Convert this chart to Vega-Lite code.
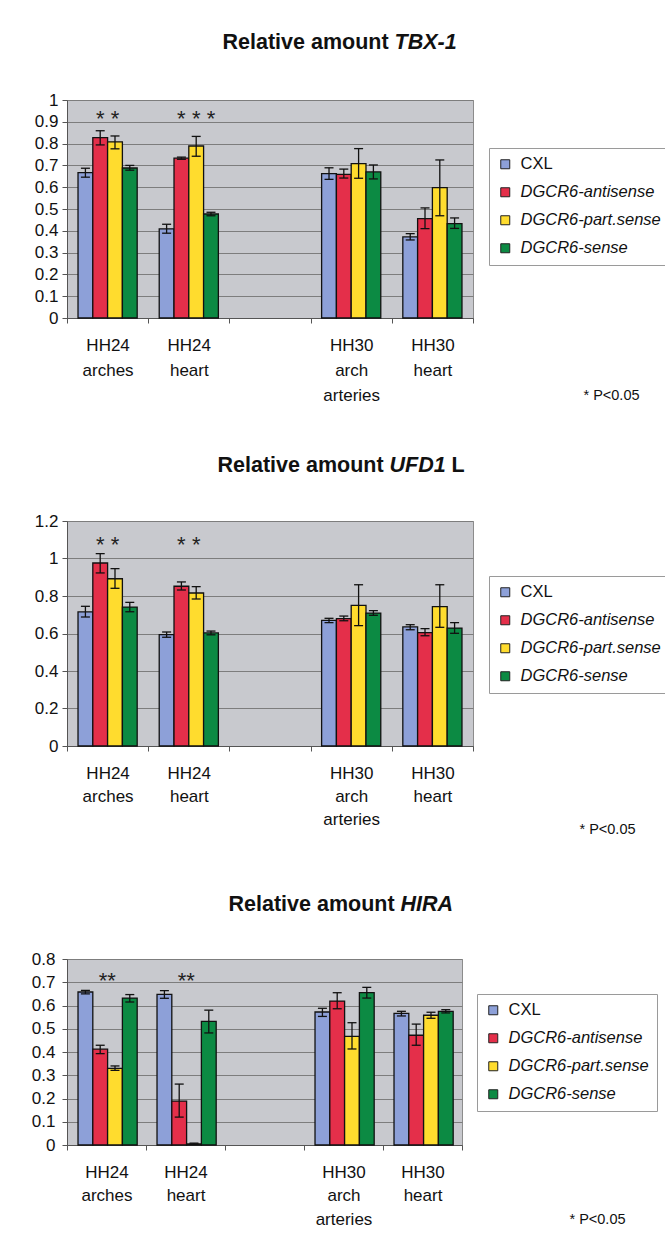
{
  "$schema": "https://vega.github.io/schema/vega-lite/v6.json",
  "padding": {"left": 30, "top": 30, "right": 0, "bottom": 0},
  "background": "white",
  "datasets": {
    "bars": [
      {"gene": "TBX-1", "group": "HH24 arches", "series": "CXL", "value": 0.667, "lo": 0.646, "hi": 0.687},
      {"gene": "TBX-1", "group": "HH24 arches", "series": "DGCR6-antisense", "value": 0.827, "lo": 0.794, "hi": 0.859},
      {"gene": "TBX-1", "group": "HH24 arches", "series": "DGCR6-part.sense", "value": 0.808, "lo": 0.776, "hi": 0.835},
      {"gene": "TBX-1", "group": "HH24 arches", "series": "DGCR6-sense", "value": 0.688, "lo": 0.678, "hi": 0.700},
      {"gene": "TBX-1", "group": "HH24 heart", "series": "CXL", "value": 0.409, "lo": 0.389, "hi": 0.430},
      {"gene": "TBX-1", "group": "HH24 heart", "series": "DGCR6-antisense", "value": 0.733, "lo": 0.728, "hi": 0.738},
      {"gene": "TBX-1", "group": "HH24 heart", "series": "DGCR6-part.sense", "value": 0.789, "lo": 0.742, "hi": 0.833},
      {"gene": "TBX-1", "group": "HH24 heart", "series": "DGCR6-sense", "value": 0.477, "lo": 0.469, "hi": 0.485},
      {"gene": "TBX-1", "group": "HH30 arch arteries", "series": "CXL", "value": 0.662, "lo": 0.636, "hi": 0.689},
      {"gene": "TBX-1", "group": "HH30 arch arteries", "series": "DGCR6-antisense", "value": 0.659, "lo": 0.642, "hi": 0.683},
      {"gene": "TBX-1", "group": "HH30 arch arteries", "series": "DGCR6-part.sense", "value": 0.708, "lo": 0.641, "hi": 0.777},
      {"gene": "TBX-1", "group": "HH30 arch arteries", "series": "DGCR6-sense", "value": 0.670, "lo": 0.638, "hi": 0.702},
      {"gene": "TBX-1", "group": "HH30 heart", "series": "CXL", "value": 0.372, "lo": 0.358, "hi": 0.387},
      {"gene": "TBX-1", "group": "HH30 heart", "series": "DGCR6-antisense", "value": 0.456, "lo": 0.410, "hi": 0.505},
      {"gene": "TBX-1", "group": "HH30 heart", "series": "DGCR6-part.sense", "value": 0.598, "lo": 0.469, "hi": 0.725},
      {"gene": "TBX-1", "group": "HH30 heart", "series": "DGCR6-sense", "value": 0.433, "lo": 0.411, "hi": 0.459},

      {"gene": "UFD1", "group": "HH24 arches", "series": "CXL", "value": 0.715, "lo": 0.688, "hi": 0.745},
      {"gene": "UFD1", "group": "HH24 arches", "series": "DGCR6-antisense", "value": 0.976, "lo": 0.923, "hi": 1.026},
      {"gene": "UFD1", "group": "HH24 arches", "series": "DGCR6-part.sense", "value": 0.892, "lo": 0.841, "hi": 0.946},
      {"gene": "UFD1", "group": "HH24 arches", "series": "DGCR6-sense", "value": 0.741, "lo": 0.716, "hi": 0.766},
      {"gene": "UFD1", "group": "HH24 heart", "series": "CXL", "value": 0.594, "lo": 0.580, "hi": 0.608},
      {"gene": "UFD1", "group": "HH24 heart", "series": "DGCR6-antisense", "value": 0.852, "lo": 0.832, "hi": 0.875},
      {"gene": "UFD1", "group": "HH24 heart", "series": "DGCR6-part.sense", "value": 0.816, "lo": 0.784, "hi": 0.850},
      {"gene": "UFD1", "group": "HH24 heart", "series": "DGCR6-sense", "value": 0.603, "lo": 0.593, "hi": 0.613},
      {"gene": "UFD1", "group": "HH30 arch arteries", "series": "CXL", "value": 0.670, "lo": 0.658, "hi": 0.681},
      {"gene": "UFD1", "group": "HH30 arch arteries", "series": "DGCR6-antisense", "value": 0.679, "lo": 0.668, "hi": 0.693},
      {"gene": "UFD1", "group": "HH30 arch arteries", "series": "DGCR6-part.sense", "value": 0.750, "lo": 0.642, "hi": 0.860},
      {"gene": "UFD1", "group": "HH30 arch arteries", "series": "DGCR6-sense", "value": 0.709, "lo": 0.697, "hi": 0.722},
      {"gene": "UFD1", "group": "HH30 heart", "series": "CXL", "value": 0.635, "lo": 0.620, "hi": 0.647},
      {"gene": "UFD1", "group": "HH30 heart", "series": "DGCR6-antisense", "value": 0.605, "lo": 0.588, "hi": 0.626},
      {"gene": "UFD1", "group": "HH30 heart", "series": "DGCR6-part.sense", "value": 0.743, "lo": 0.633, "hi": 0.860},
      {"gene": "UFD1", "group": "HH30 heart", "series": "DGCR6-sense", "value": 0.629, "lo": 0.601, "hi": 0.658},

      {"gene": "HIRA", "group": "HH24 arches", "series": "CXL", "value": 0.658, "lo": 0.650, "hi": 0.665},
      {"gene": "HIRA", "group": "HH24 arches", "series": "DGCR6-antisense", "value": 0.412, "lo": 0.393, "hi": 0.429},
      {"gene": "HIRA", "group": "HH24 arches", "series": "DGCR6-part.sense", "value": 0.330, "lo": 0.321, "hi": 0.340},
      {"gene": "HIRA", "group": "HH24 arches", "series": "DGCR6-sense", "value": 0.632, "lo": 0.615, "hi": 0.647},
      {"gene": "HIRA", "group": "HH24 heart", "series": "CXL", "value": 0.648, "lo": 0.631, "hi": 0.664},
      {"gene": "HIRA", "group": "HH24 heart", "series": "DGCR6-antisense", "value": 0.189, "lo": 0.120, "hi": 0.262},
      {"gene": "HIRA", "group": "HH24 heart", "series": "DGCR6-part.sense", "value": 0.005, "lo": 0.003, "hi": 0.008},
      {"gene": "HIRA", "group": "HH24 heart", "series": "DGCR6-sense", "value": 0.532, "lo": 0.482, "hi": 0.580},
      {"gene": "HIRA", "group": "HH30 arch arteries", "series": "CXL", "value": 0.572, "lo": 0.553, "hi": 0.588},
      {"gene": "HIRA", "group": "HH30 arch arteries", "series": "DGCR6-antisense", "value": 0.619, "lo": 0.586, "hi": 0.655},
      {"gene": "HIRA", "group": "HH30 arch arteries", "series": "DGCR6-part.sense", "value": 0.467, "lo": 0.413, "hi": 0.526},
      {"gene": "HIRA", "group": "HH30 arch arteries", "series": "DGCR6-sense", "value": 0.655, "lo": 0.632, "hi": 0.678},
      {"gene": "HIRA", "group": "HH30 heart", "series": "CXL", "value": 0.566, "lo": 0.555, "hi": 0.575},
      {"gene": "HIRA", "group": "HH30 heart", "series": "DGCR6-antisense", "value": 0.472, "lo": 0.429, "hi": 0.520},
      {"gene": "HIRA", "group": "HH30 heart", "series": "DGCR6-part.sense", "value": 0.558, "lo": 0.545, "hi": 0.571},
      {"gene": "HIRA", "group": "HH30 heart", "series": "DGCR6-sense", "value": 0.575, "lo": 0.568, "hi": 0.582}
    ],
    "stars": [
      {"gene": "TBX-1", "group": "HH24 arches", "series": "DGCR6-antisense", "star": "*", "ypos": 0.94},
      {"gene": "TBX-1", "group": "HH24 arches", "series": "DGCR6-part.sense", "star": "*", "ypos": 0.94},
      {"gene": "TBX-1", "group": "HH24 heart", "series": "DGCR6-antisense", "star": "*", "ypos": 0.94},
      {"gene": "TBX-1", "group": "HH24 heart", "series": "DGCR6-part.sense", "star": "*", "ypos": 0.94},
      {"gene": "TBX-1", "group": "HH24 heart", "series": "DGCR6-sense", "star": "*", "ypos": 0.94},
      {"gene": "UFD1", "group": "HH24 arches", "series": "DGCR6-antisense", "star": "*", "ypos": 1.105},
      {"gene": "UFD1", "group": "HH24 arches", "series": "DGCR6-part.sense", "star": "*", "ypos": 1.105},
      {"gene": "UFD1", "group": "HH24 heart", "series": "DGCR6-antisense", "star": "*", "ypos": 1.105},
      {"gene": "UFD1", "group": "HH24 heart", "series": "DGCR6-part.sense", "star": "*", "ypos": 1.105},
      {"gene": "HIRA", "group": "HH24 arches", "series": "DGCR6-antisense", "star": "**", "ypos": 0.73},
      {"gene": "HIRA", "group": "HH24 heart", "series": "DGCR6-antisense", "star": "**", "ypos": 0.73}
    ]
  },
  "vconcat": [
    {
      "width": 406, "height": 218,
      "encoding": {
        "x": {"field": "group", "type": "nominal", "sort": null, "title": "* P<0.05",
              "scale": {"domain": ["HH24 arches", "HH24 heart", "gap", "HH30 arch arteries", "HH30 heart"], "paddingInner": 0, "paddingOuter": 0},
              "axis": {"titleX": 516, "titleY": 77, "labelLineHeight": 25}},
        "xOffset": {"field": "series", "type": "nominal", "sort": null,
                    "scale": {"domain": ["CXL", "DGCR6-antisense", "DGCR6-part.sense", "DGCR6-sense"], "paddingInner": 0, "paddingOuter": 0.745}}
      },
      "layer": [
        {"data": {"name": "bars"}, "transform": [{"filter": "datum.gene == 'TBX-1'"}],
         "mark": {"type": "bar", "stroke": "#111", "strokeWidth": 1.3},
         "encoding": {
           "y": {"field": "value", "type": "quantitative", "title": "Relative amount",
                 "scale": {"domain": [0, 1], "nice": false},
                 "axis": {"values": [0, 0.1, 0.2, 0.3, 0.4, 0.5, 0.6, 0.7, 0.8, 0.9, 1], "format": "~g", "titleX": 155, "titleY": -58, "titleFontStyle": "normal"}},
           "color": {"field": "series", "type": "nominal", "sort": null,
                     "scale": {"domain": ["CXL", "DGCR6-antisense", "DGCR6-part.sense", "DGCR6-sense"], "range": ["#8DA0D8", "#E42F4A", "#FFDC2E", "#0C8A43"]},
                     "legend": {"title": null, "orient": "none", "legendX": 422, "legendY": 48,
                                "encode": {"labels": {"update": {"fontStyle": {"signal": "datum.value === 'CXL' ? 'normal' : 'italic'"}}}}}}
         }},
        {"data": {"name": "bars"}, "transform": [{"filter": "datum.gene == 'TBX-1'"}],
         "mark": {"type": "rule", "color": "#111", "strokeWidth": 1.3},
         "encoding": {"y": {"field": "lo", "type": "quantitative", "scale": {"domain": [0, 1], "nice": false}, "axis": null}, "y2": {"field": "hi"}}},
        {"data": {"name": "bars"}, "transform": [{"filter": "datum.gene == 'TBX-1'"}],
         "mark": {"type": "tick", "orient": "horizontal", "size": 9, "thickness": 1.3, "color": "#111", "opacity": 1},
         "encoding": {"y": {"field": "lo", "type": "quantitative", "scale": {"domain": [0, 1], "nice": false}, "axis": null}}},
        {"data": {"name": "bars"}, "transform": [{"filter": "datum.gene == 'TBX-1'"}],
         "mark": {"type": "tick", "orient": "horizontal", "size": 9, "thickness": 1.3, "color": "#111", "opacity": 1},
         "encoding": {"y": {"field": "hi", "type": "quantitative", "scale": {"domain": [0, 1], "nice": false}, "axis": null}}},
        {"data": {"name": "stars"}, "transform": [{"filter": "datum.gene == 'TBX-1'"}],
         "mark": {"type": "text", "fontSize": 22, "dy": 6, "color": "#222"},
         "encoding": {
           "y": {"field": "ypos", "type": "quantitative", "title": "TBX-1", "scale": {"domain": [0, 1], "nice": false},
                 "axis": {"orient": "left", "domain": false, "labels": false, "ticks": false, "grid": false, "titleX": 327, "titleY": -58, "titleFontStyle": "italic"}},
           "text": {"field": "star"}}}
      ],
      "resolve": {"axis": {"y": "independent"}}
    },
    {
      "vconcat": [
        {
          "width": 406, "height": 225,
          "encoding": {
            "x": {"field": "group", "type": "nominal", "sort": null, "title": "* P<0.05",
                  "scale": {"domain": ["HH24 arches", "HH24 heart", "gap", "HH30 arch arteries", "HH30 heart"], "paddingInner": 0, "paddingOuter": 0},
                  "axis": {"titleX": 512, "titleY": 83, "labelLineHeight": 23}},
            "xOffset": {"field": "series", "type": "nominal", "sort": null,
                        "scale": {"domain": ["CXL", "DGCR6-antisense", "DGCR6-part.sense", "DGCR6-sense"], "paddingInner": 0, "paddingOuter": 0.745}}
          },
          "layer": [
            {"data": {"name": "bars"}, "transform": [{"filter": "datum.gene == 'UFD1'"}],
             "mark": {"type": "bar", "stroke": "#111", "strokeWidth": 1.3},
             "encoding": {
               "y": {"field": "value", "type": "quantitative", "title": "Relative amount",
                     "scale": {"domain": [0, 1.2], "nice": false},
                     "axis": {"values": [0, 0.2, 0.4, 0.6, 0.8, 1, 1.2], "format": "~g", "titleX": 150, "titleY": -56, "titleFontStyle": "normal"}},
               "color": {"field": "series", "type": "nominal", "sort": null,
                         "scale": {"domain": ["CXL", "DGCR6-antisense", "DGCR6-part.sense", "DGCR6-sense"], "range": ["#8DA0D8", "#E42F4A", "#FFDC2E", "#0C8A43"]},
                         "legend": {"title": null, "orient": "none", "legendX": 422, "legendY": 55,
                                    "encode": {"labels": {"update": {"fontStyle": {"signal": "datum.value === 'CXL' ? 'normal' : 'italic'"}}}}}}
             }},
            {"data": {"name": "bars"}, "transform": [{"filter": "datum.gene == 'UFD1'"}],
             "mark": {"type": "rule", "color": "#111", "strokeWidth": 1.3},
             "encoding": {"y": {"field": "lo", "type": "quantitative", "title": "L", "scale": {"domain": [0, 1.2], "nice": false},
                                "axis": {"orient": "left", "domain": false, "labels": false, "ticks": false, "grid": false, "titleX": 384, "titleY": -56, "titleFontStyle": "normal"}},
                          "y2": {"field": "hi"}}},
            {"data": {"name": "bars"}, "transform": [{"filter": "datum.gene == 'UFD1'"}],
             "mark": {"type": "tick", "orient": "horizontal", "size": 9, "thickness": 1.3, "color": "#111", "opacity": 1},
             "encoding": {"y": {"field": "lo", "type": "quantitative", "scale": {"domain": [0, 1.2], "nice": false}, "axis": null}}},
            {"data": {"name": "bars"}, "transform": [{"filter": "datum.gene == 'UFD1'"}],
             "mark": {"type": "tick", "orient": "horizontal", "size": 9, "thickness": 1.3, "color": "#111", "opacity": 1},
             "encoding": {"y": {"field": "hi", "type": "quantitative", "scale": {"domain": [0, 1.2], "nice": false}, "axis": null}}},
            {"data": {"name": "stars"}, "transform": [{"filter": "datum.gene == 'UFD1'"}],
             "mark": {"type": "text", "fontSize": 22, "dy": 6, "color": "#222"},
             "encoding": {
               "y": {"field": "ypos", "type": "quantitative", "title": "UFD1", "scale": {"domain": [0, 1.2], "nice": false},
                     "axis": {"orient": "left", "domain": false, "labels": false, "ticks": false, "grid": false, "titleX": 322, "titleY": -56, "titleFontStyle": "italic"}},
               "text": {"field": "star"}}}
          ],
          "resolve": {"axis": {"y": "independent"}}
        },
        {
          "width": 395, "height": 186,
          "encoding": {
            "x": {"field": "group", "type": "nominal", "sort": null, "title": "* P<0.05",
                  "scale": {"domain": ["HH24 arches", "HH24 heart", "gap", "HH30 arch arteries", "HH30 heart"], "paddingInner": 0, "paddingOuter": 0},
                  "axis": {"titleX": 502, "titleY": 74, "labelLineHeight": 23.5}},
            "xOffset": {"field": "series", "type": "nominal", "sort": null,
                        "scale": {"domain": ["CXL", "DGCR6-antisense", "DGCR6-part.sense", "DGCR6-sense"], "paddingInner": 0, "paddingOuter": 0.745}}
          },
          "layer": [
            {"data": {"name": "bars"}, "transform": [{"filter": "datum.gene == 'HIRA'"}],
             "mark": {"type": "bar", "stroke": "#111", "strokeWidth": 1.3},
             "encoding": {
               "y": {"field": "value", "type": "quantitative", "title": "Relative amount",
                     "scale": {"domain": [0, 0.8], "nice": false},
                     "axis": {"values": [0, 0.1, 0.2, 0.3, 0.4, 0.5, 0.6, 0.7, 0.8], "format": "~g", "labelPadding": 7, "titleX": 161, "titleY": -55, "titleFontStyle": "normal"}},
               "color": {"field": "series", "type": "nominal", "sort": null,
                         "scale": {"domain": ["CXL", "DGCR6-antisense", "DGCR6-part.sense", "DGCR6-sense"], "range": ["#8DA0D8", "#E42F4A", "#FFDC2E", "#0C8A43"]},
                         "legend": {"title": null, "orient": "none", "legendX": 410, "legendY": 35,
                                    "encode": {"labels": {"update": {"fontStyle": {"signal": "datum.value === 'CXL' ? 'normal' : 'italic'"}}}}}}
             }},
            {"data": {"name": "bars"}, "transform": [{"filter": "datum.gene == 'HIRA'"}],
             "mark": {"type": "rule", "color": "#111", "strokeWidth": 1.3},
             "encoding": {"y": {"field": "lo", "type": "quantitative", "scale": {"domain": [0, 0.8], "nice": false}, "axis": null}, "y2": {"field": "hi"}}},
            {"data": {"name": "bars"}, "transform": [{"filter": "datum.gene == 'HIRA'"}],
             "mark": {"type": "tick", "orient": "horizontal", "size": 9, "thickness": 1.3, "color": "#111", "opacity": 1},
             "encoding": {"y": {"field": "lo", "type": "quantitative", "scale": {"domain": [0, 0.8], "nice": false}, "axis": null}}},
            {"data": {"name": "bars"}, "transform": [{"filter": "datum.gene == 'HIRA'"}],
             "mark": {"type": "tick", "orient": "horizontal", "size": 9, "thickness": 1.3, "color": "#111", "opacity": 1},
             "encoding": {"y": {"field": "hi", "type": "quantitative", "scale": {"domain": [0, 0.8], "nice": false}, "axis": null}}},
            {"data": {"name": "stars"}, "transform": [{"filter": "datum.gene == 'HIRA'"}],
             "mark": {"type": "text", "fontSize": 22, "dy": 6, "dx": 7, "color": "#222"},
             "encoding": {
               "y": {"field": "ypos", "type": "quantitative", "title": "HIRA", "scale": {"domain": [0, 0.8], "nice": false},
                     "axis": {"orient": "left", "domain": false, "labels": false, "ticks": false, "grid": false, "titleX": 333, "titleY": -55, "titleFontStyle": "italic"}},
               "text": {"field": "star"}}}
          ],
          "resolve": {"axis": {"y": "independent"}}
        }
      ],
      "spacing": 56,
      "resolve": {"legend": {"color": "independent"}}
    }
  ],
  "spacing": 49,
  "resolve": {"legend": {"color": "independent"}},
  "config": {
    "font": "Liberation Sans",
    "view": {"fill": "#C8C9CE", "stroke": "#8c8c8c", "strokeWidth": 1},
    "axis": {"labelFont": "Liberation Sans", "labelColor": "#111", "titleFont": "Liberation Sans", "titleColor": "#111",
             "domainColor": "#555", "tickColor": "#555", "gridColor": "#7d7d7d", "gridWidth": 1},
    "axisY": {"labelFontSize": 17, "tickSize": 5, "labelPadding": 4, "grid": true,
              "titleFontSize": 21.5, "titleFontWeight": "bold", "titleAngle": 0, "titleAlign": "left", "titleBaseline": "middle"},
    "axisX": {"labelFontSize": 17, "labelAngle": 0, "tickBand": "extent", "tickSize": 5, "labelPadding": 14, "grid": false,
              "labelBaseline": "top",
              "labelExpr": "datum.label == 'gap' ? '' : split(datum.label, ' ')",
              "titleFontSize": 14.5, "titleFontWeight": "normal", "titleAlign": "left", "titleBaseline": "middle"},
    "legend": {"symbolType": "square", "symbolSize": 81, "symbolStrokeColor": "#222", "symbolStrokeWidth": 1,
               "labelFont": "Liberation Sans", "labelFontSize": 16.5, "labelColor": "#111", "labelOffset": 7,
               "rowPadding": 11, "padding": 8, "strokeColor": "#9a9a9a", "fillColor": "#ffffff"}
  }
}
